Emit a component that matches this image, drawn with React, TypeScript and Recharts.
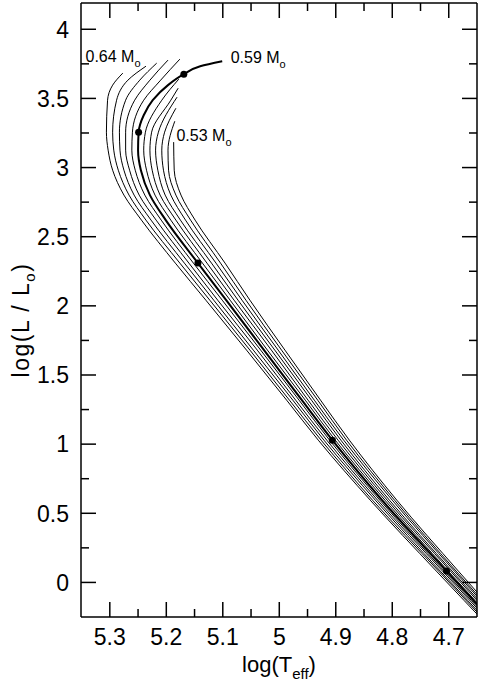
import React from 'react';
import { ComposedChart, Line, Scatter, XAxis, YAxis } from 'recharts';

const xMajorTicks = [5.3, 5.2, 5.1, 5, 4.9, 4.8, 4.7];
const xMinorTicks = [5.25, 5.15, 5.05, 4.95, 4.85, 4.75];
const yMajorTicks = [0, 0.5, 1, 1.5, 2, 2.5, 3, 3.5, 4];
const yMinorTicks = [0.25, 0.75, 1.25, 1.75, 2.25, 2.75, 3.25, 3.75];
const xDomain = [4.65, 5.351];
const yDomain = [-0.25, 4.19];

const track064 = [
  { T: 5.277, L: 3.683 }, { T: 5.295, L: 3.596 }, { T: 5.304, L: 3.487 }, { T: 5.306, L: 3.256 },
  { T: 5.303, L: 3.126 }, { T: 5.295, L: 2.981 }, { T: 5.275, L: 2.801 }, { T: 5.244, L: 2.62 },
  { T: 5.184, L: 2.309 }, { T: 5.13, L: 2.041 }, { T: 5.058, L: 1.68 }, { T: 4.987, L: 1.318 },
  { T: 4.931, L: 1.029 }, { T: 4.839, L: 0.595 }, { T: 4.722, L: 0.082 }, { T: 4.623, L: -0.345 },
];
const track063 = [
  { T: 5.236, L: 3.733 }, { T: 5.268, L: 3.632 }, { T: 5.288, L: 3.487 }, { T: 5.295, L: 3.256 },
  { T: 5.293, L: 3.126 }, { T: 5.285, L: 2.981 }, { T: 5.266, L: 2.801 }, { T: 5.236, L: 2.62 },
  { T: 5.176, L: 2.309 }, { T: 5.123, L: 2.041 }, { T: 5.052, L: 1.68 }, { T: 4.982, L: 1.318 },
  { T: 4.926, L: 1.029 }, { T: 4.835, L: 0.595 }, { T: 4.718, L: 0.082 }, { T: 4.62, L: -0.345 },
];
const track062 = [
  { T: 5.217, L: 3.755 }, { T: 5.247, L: 3.632 }, { T: 5.272, L: 3.487 }, { T: 5.283, L: 3.256 },
  { T: 5.282, L: 3.126 }, { T: 5.275, L: 2.981 }, { T: 5.257, L: 2.801 }, { T: 5.227, L: 2.62 },
  { T: 5.168, L: 2.309 }, { T: 5.116, L: 2.041 }, { T: 5.046, L: 1.68 }, { T: 4.976, L: 1.318 },
  { T: 4.921, L: 1.029 }, { T: 4.83, L: 0.595 }, { T: 4.715, L: 0.082 }, { T: 4.617, L: -0.345 },
];
const track061 = [
  { T: 5.197, L: 3.777 }, { T: 5.229, L: 3.632 }, { T: 5.256, L: 3.487 }, { T: 5.272, L: 3.256 },
  { T: 5.272, L: 3.126 }, { T: 5.265, L: 2.981 }, { T: 5.248, L: 2.801 }, { T: 5.218, L: 2.62 },
  { T: 5.16, L: 2.309 }, { T: 5.109, L: 2.041 }, { T: 5.039, L: 1.68 }, { T: 4.971, L: 1.318 },
  { T: 4.916, L: 1.029 }, { T: 4.826, L: 0.595 }, { T: 4.711, L: 0.082 }, { T: 4.614, L: -0.345 },
];
const track060 = [
  { T: 5.176, L: 3.784 }, { T: 5.21, L: 3.632 }, { T: 5.24, L: 3.487 }, { T: 5.26, L: 3.256 },
  { T: 5.261, L: 3.126 }, { T: 5.255, L: 2.981 }, { T: 5.238, L: 2.801 }, { T: 5.209, L: 2.62 },
  { T: 5.152, L: 2.309 }, { T: 5.101, L: 2.041 }, { T: 5.033, L: 1.68 }, { T: 4.965, L: 1.318 },
  { T: 4.911, L: 1.029 }, { T: 4.822, L: 0.595 }, { T: 4.708, L: 0.082 }, { T: 4.611, L: -0.345 },
];
const track059 = [
  { T: 5.101, L: 3.769 }, { T: 5.14, L: 3.733 }, { T: 5.169, L: 3.675 }, { T: 5.197, L: 3.596 },
  { T: 5.224, L: 3.487 }, { T: 5.24, L: 3.378 }, { T: 5.249, L: 3.256 }, { T: 5.25, L: 3.126 },
  { T: 5.245, L: 2.981 }, { T: 5.229, L: 2.801 }, { T: 5.201, L: 2.62 }, { T: 5.144, L: 2.309 },
  { T: 5.094, L: 2.041 }, { T: 5.027, L: 1.68 }, { T: 4.96, L: 1.318 }, { T: 4.906, L: 1.029 },
  { T: 4.818, L: 0.595 }, { T: 4.704, L: 0.082 }, { T: 4.608, L: -0.345 },
];
const track058 = [
  { T: 5.178, L: 3.639 }, { T: 5.208, L: 3.487 }, { T: 5.237, L: 3.256 }, { T: 5.24, L: 3.126 },
  { T: 5.235, L: 2.981 }, { T: 5.22, L: 2.801 }, { T: 5.192, L: 2.62 }, { T: 5.136, L: 2.309 },
  { T: 5.087, L: 2.041 }, { T: 5.021, L: 1.68 }, { T: 4.954, L: 1.318 }, { T: 4.901, L: 1.029 },
  { T: 4.813, L: 0.595 }, { T: 4.701, L: 0.082 }, { T: 4.605, L: -0.345 },
];
const track057 = [
  { T: 5.179, L: 3.574 }, { T: 5.192, L: 3.487 }, { T: 5.226, L: 3.256 }, { T: 5.229, L: 3.126 },
  { T: 5.225, L: 2.981 }, { T: 5.211, L: 2.801 }, { T: 5.183, L: 2.62 }, { T: 5.128, L: 2.309 },
  { T: 5.08, L: 2.041 }, { T: 5.014, L: 1.68 }, { T: 4.949, L: 1.318 }, { T: 4.896, L: 1.029 },
  { T: 4.809, L: 0.595 }, { T: 4.697, L: 0.082 }, { T: 4.602, L: -0.345 },
];
const track056 = [
  { T: 5.181, L: 3.509 }, { T: 5.214, L: 3.256 }, { T: 5.219, L: 3.126 }, { T: 5.215, L: 2.981 },
  { T: 5.202, L: 2.801 }, { T: 5.175, L: 2.62 }, { T: 5.12, L: 2.309 }, { T: 5.073, L: 2.041 },
  { T: 5.008, L: 1.68 }, { T: 4.943, L: 1.318 }, { T: 4.891, L: 1.029 }, { T: 4.805, L: 0.595 },
  { T: 4.694, L: 0.082 }, { T: 4.599, L: -0.345 },
];
const track055 = [
  { T: 5.183, L: 3.429 }, { T: 5.203, L: 3.256 }, { T: 5.208, L: 3.126 }, { T: 5.205, L: 2.981 },
  { T: 5.192, L: 2.801 }, { T: 5.166, L: 2.62 }, { T: 5.112, L: 2.309 }, { T: 5.066, L: 2.041 },
  { T: 5.002, L: 1.68 }, { T: 4.938, L: 1.318 }, { T: 4.886, L: 1.029 }, { T: 4.8, L: 0.595 },
  { T: 4.69, L: 0.082 }, { T: 4.596, L: -0.345 },
];
const track054 = [
  { T: 5.185, L: 3.335 }, { T: 5.197, L: 3.126 }, { T: 5.196, L: 2.981 }, { T: 5.183, L: 2.801 },
  { T: 5.157, L: 2.62 }, { T: 5.104, L: 2.309 }, { T: 5.059, L: 2.041 }, { T: 4.996, L: 1.68 },
  { T: 4.932, L: 1.318 }, { T: 4.881, L: 1.029 }, { T: 4.796, L: 0.595 }, { T: 4.687, L: 0.082 },
  { T: 4.593, L: -0.345 },
];
const track053 = [
  { T: 5.187, L: 3.184 }, { T: 5.186, L: 2.981 }, { T: 5.174, L: 2.801 }, { T: 5.149, L: 2.62 },
  { T: 5.096, L: 2.309 }, { T: 5.052, L: 2.041 }, { T: 4.99, L: 1.68 }, { T: 4.927, L: 1.318 },
  { T: 4.876, L: 1.029 }, { T: 4.792, L: 0.595 }, { T: 4.683, L: 0.082 }, { T: 4.59, L: -0.345 },
];

const thinTracks = [track064, track063, track062, track061, track060, track058, track057, track056, track055, track054, track053];
const thickTrack = track059;

const markers059 = [
  { T: 5.169, L: 3.675 }, { T: 5.249, L: 3.256 }, { T: 5.144, L: 2.309 }, { T: 4.906, L: 1.029 }, { T: 4.704, L: 0.082 },
];

const massLabels = [
  { T: 5.343, L: 3.764, mass: '0.64' },
  { T: 5.086, L: 3.757, mass: '0.59' },
  { T: 5.182, L: 3.193, mass: '0.53' },
];

const xAllTicks = [...xMajorTicks, ...xMinorTicks];
const yAllTicks = [...yMajorTicks, ...yMinorTicks];

const FONT = '"Liberation Sans", Arial, Helvetica, sans-serif';
const lineStyle = { stroke: '#000', strokeWidth: 1.5 };
const MAJOR = 15;
const MINOR = 8;

const isMajorX = (v: number) => xMajorTicks.some((t) => Math.abs(t - v) < 1e-9);
const isMajorY = (v: number) => yMajorTicks.some((t) => Math.abs(t - v) < 1e-9);

const BottomTick = (p: any) => {
  const v = p.payload.value;
  const major = isMajorX(v);
  return (
    <g>
      <line x1={p.x} x2={p.x} y1={p.y} y2={p.y - (major ? MAJOR : MINOR)} stroke="#000" strokeWidth={1.5} />
      {major && (
        <text x={p.x} y={p.y + 28} textAnchor="middle" fontSize={23} fontFamily={FONT} fill="#000">{String(v)}</text>
      )}
    </g>
  );
};
const TopTick = (p: any) => {
  const major = isMajorX(p.payload.value);
  return <line x1={p.x} x2={p.x} y1={p.y} y2={p.y + (major ? MAJOR : MINOR)} stroke="#000" strokeWidth={1.5} />;
};
const LeftTick = (p: any) => {
  const v = p.payload.value;
  const major = isMajorY(v);
  return (
    <g>
      <line x1={p.x} x2={p.x + (major ? MAJOR : MINOR)} y1={p.y} y2={p.y} stroke="#000" strokeWidth={1.5} />
      {major && (
        <text x={p.x - 12} y={p.y} dy="0.36em" textAnchor="end" fontSize={23} fontFamily={FONT} fill="#000">{String(v)}</text>
      )}
    </g>
  );
};
const RightTick = (p: any) => {
  const major = isMajorY(p.payload.value);
  return <line x1={p.x} x2={p.x - (major ? MAJOR : MINOR)} y1={p.y} y2={p.y} stroke="#000" strokeWidth={1.5} />;
};

const XTitle = (props: any) => {
  const vb = props.viewBox || {};
  return (
    <text x={vb.x + vb.width / 2} y={vb.y + 55} textAnchor="middle" fontSize={22} fontFamily={FONT} fill="#000">
      log(T<tspan fontSize={15} dy={7}>eff</tspan><tspan dy={-7}>)</tspan>
    </text>
  );
};

const YTitle = (props: any) => {
  const vb = props.viewBox || {};
  const cx = 29;
  const cy = vb.y + vb.height / 2 + 10;
  return (
    <text x={cx} y={cy} transform={`rotate(-90, ${cx}, ${cy})`} textAnchor="middle" fontSize={23} letterSpacing={1.5}
      fontFamily={FONT} fill="#000">
      log(L / L<tspan fontSize={15} dy={6}>o</tspan><tspan dy={-6}>)</tspan>
    </text>
  );
};

const MarkerDot = (p: any) => <circle cx={p.cx} cy={p.cy} r={3.5} fill="#000" />;

const MassLabel = (p: any) => (
  <text x={p.cx} y={p.cy} fontSize={16} fontFamily={FONT} fill="#000">
    {p.payload.mass} M<tspan fontSize={11} dy={5}>o</tspan>
  </text>
);

export default function App() {
  return (
    <div style={{ position: 'absolute', left: 0, top: 0, width: 479, height: 683, background: '#fff', fontFamily: FONT }}>
      <ComposedChart width={479} height={683} layout="vertical" margin={{ top: 2, right: 1, bottom: 0, left: 0 }}>
        <XAxis xAxisId="x" type="number" dataKey="T" domain={xDomain} reversed allowDataOverflow orientation="bottom"
          height={66} ticks={xAllTicks} interval={0} tickSize={0} tickMargin={0} tick={BottomTick}
          axisLine={lineStyle} tickLine={false} label={XTitle} />
        <XAxis xAxisId="xt" type="number" dataKey="T" domain={xDomain} reversed allowDataOverflow orientation="top"
          height={1} ticks={xAllTicks} interval={0} tickSize={0} tickMargin={0} tick={TopTick}
          axisLine={lineStyle} tickLine={false} />
        <YAxis yAxisId="y" type="number" dataKey="L" domain={yDomain} reversed allowDataOverflow orientation="left"
          width={81} ticks={yAllTicks} interval={0} tickSize={0} tickMargin={0} tick={LeftTick}
          axisLine={lineStyle} tickLine={false} label={YTitle} />
        <YAxis yAxisId="yr" type="number" dataKey="L" domain={yDomain} reversed allowDataOverflow orientation="right"
          width={1} ticks={yAllTicks} interval={0} tickSize={0} tickMargin={0} tick={RightTick}
          axisLine={lineStyle} tickLine={false} />
        {thinTracks.map((trk, i) => (
          <Line key={i} xAxisId="x" yAxisId="y" data={trk} dataKey="T" type="monotone" stroke="#000" strokeWidth={1}
            dot={false} activeDot={false} isAnimationActive={false} />
        ))}
        <Line xAxisId="x" yAxisId="y" data={thickTrack} dataKey="T" type="monotone" stroke="#000" strokeWidth={2}
          dot={false} activeDot={false} isAnimationActive={false} />
        <Line xAxisId="xt" yAxisId="yr" data={thickTrack} dataKey="T" type="monotone" stroke="none"
          dot={false} activeDot={false} isAnimationActive={false} />
        <Scatter xAxisId="x" yAxisId="y" data={markers059} dataKey="T" shape={MarkerDot} isAnimationActive={false} />
        <Scatter xAxisId="x" yAxisId="y" data={massLabels} dataKey="T" shape={MassLabel} isAnimationActive={false} />
      </ComposedChart>
    </div>
  );
}
